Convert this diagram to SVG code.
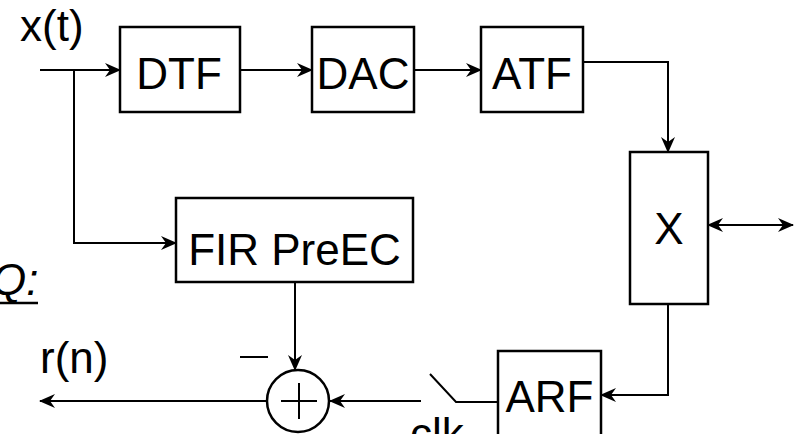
<svg xmlns="http://www.w3.org/2000/svg" width="800" height="434" viewBox="0 0 800 434">
<style>
.box{fill:#fff;stroke:#000;stroke-width:2.5}
.ln{fill:none;stroke:#000;stroke-width:2}
.t{font-family:"Liberation Sans",Arial,sans-serif;font-size:44px;fill:#000}
.c{text-anchor:middle}
</style>
<defs>
<marker id="ah" markerUnits="userSpaceOnUse" markerWidth="16" markerHeight="14" viewBox="0 0 16 14" refX="15" refY="7" orient="auto-start-reverse">
<path d="M0,0 L16,7 L0,14 L5,7 z" fill="#000"/>
</marker>
</defs>
<rect width="800" height="434" fill="#fff"/>
<g id="connectors">
<line class="ln" x1="40" y1="70" x2="120" y2="70" marker-end="url(#ah)"/>
<line class="ln" x1="240" y1="70" x2="312" y2="70" marker-end="url(#ah)"/>
<line class="ln" x1="414" y1="70" x2="481" y2="70" marker-end="url(#ah)"/>
<polyline class="ln" points="583,62 668,62 668,152" marker-end="url(#ah)"/>
<polyline class="ln" points="74,71 74,243 176,243" marker-end="url(#ah)"/>
<line class="ln" x1="708" y1="225" x2="793" y2="225" marker-start="url(#ah)" marker-end="url(#ah)"/>
<polyline class="ln" points="668,304 668,395 601,395" marker-end="url(#ah)"/>
<polyline class="ln" points="498,402 456,402 430,374"/>
<line class="ln" x1="421" y1="401" x2="330" y2="401" marker-end="url(#ah)"/>
<line class="ln" x1="295" y1="282" x2="295" y2="370" marker-end="url(#ah)"/>
<line class="ln" x1="267" y1="401" x2="40" y2="401" marker-end="url(#ah)"/>
</g>
<g id="xt"><text class="t" x="20" y="41">x(t)</text></g>
<g id="DTF"><rect class="box" x="120" y="27" width="120" height="85"/><text class="t c" x="179" y="89">DTF</text></g>
<g id="DAC"><rect class="box" x="312" y="27" width="102" height="85"/><text class="t c" x="363" y="89">DAC</text></g>
<g id="ATF"><rect class="box" x="481" y="27" width="102" height="85"/><text class="t c" x="532" y="89">ATF</text></g>
<g id="X"><rect class="box" x="630" y="152" width="78" height="152"/><text class="t c" x="669" y="244">X</text></g>
<g id="FIR"><rect class="box" x="176" y="198" width="237" height="84"/><text class="t c" x="294.5" y="265">FIR PreEC</text></g>
<g id="ARF"><rect class="box" x="498" y="351" width="103" height="100"/><text class="t c" x="549.5" y="412">ARF</text></g>
<g id="sum"><circle cx="298" cy="401" r="31" fill="#fff" stroke="#000" stroke-width="2.5"/><line class="ln" x1="281" y1="401" x2="317" y2="401"/><line class="ln" x1="299" y1="383" x2="299" y2="419"/></g>
<g id="labels">
<line class="ln" x1="240" y1="357" x2="268" y2="357"/>
<text class="t" x="40" y="373">r(n)</text>
<text class="t" x="-8" y="295" font-style="italic">Q:</text>
<line x1="0" y1="303" x2="38" y2="303" stroke="#000" stroke-width="2.5"/>
<text class="t" x="410" y="449">clk</text>
</g>
</svg>
